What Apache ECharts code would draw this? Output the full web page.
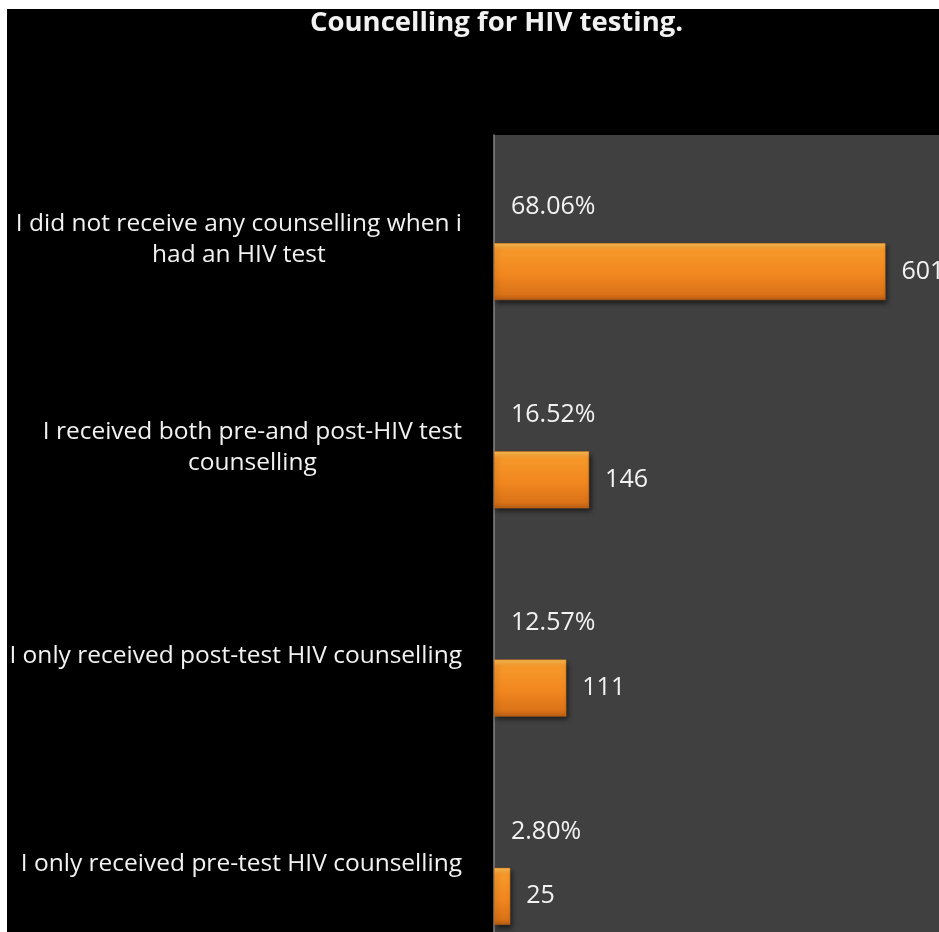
<!DOCTYPE html>
<html>
<head>
<meta charset="utf-8">
<script src="https://cdn.jsdelivr.net/npm/echarts@6/dist/echarts.min.js"></script>
<style>
  html, body { margin: 0; padding: 0; background: #ffffff; }
  #chart { position: absolute; left: 7px; top: 9px; width: 932px; height: 923px; background: #000000; }
</style>
</head>
<body>
<div id="chart"></div>
<script>
// Survey responses: counselling received at HIV testing
const categories = [
  'I did not receive any counselling when i\nhad an HIV test',
  'I received both pre-and post-HIV test\ncounselling',
  'I only received post-test HIV counselling',
  'I only received pre-test HIV counselling'
];
const counts = [601, 146, 111, 25];
const percents = [68.06, 16.52, 12.57, 2.80];
const axisMax = 700;

const chart = echarts.init(document.getElementById('chart'), null, { renderer: 'canvas' });

const textColor = '#f2f2f2';
const fontFamily = '"Open Sans", Lato, sans-serif';

const barGradient = new echarts.graphic.LinearGradient(0, 0, 0, 1, [
  { offset: 0, color: '#fcbc52' },
  { offset: 0.12, color: '#f7982a' },
  { offset: 0.55, color: '#f1871f' },
  { offset: 0.9, color: '#da7218' },
  { offset: 1, color: '#b65d14' }
]);

chart.setOption({
  animation: false,
  backgroundColor: '#000000',
  title: {
    text: 'Councelling for HIV testing.',
    left: 298,
    top: -5,
    textStyle: { color: textColor, fontFamily: fontFamily, fontWeight: 'bold', fontSize: 27.5 }
  },
  grid: {
    left: 487,
    top: 126,
    width: 456,
    height: 833,
    outerBoundsMode: 'none',
    show: true,
    backgroundColor: '#404040',
    borderWidth: 0
  },
  xAxis: {
    type: 'value',
    min: 0,
    max: axisMax,
    show: false,
    splitLine: { show: false }
  },
  yAxis: {
    type: 'category',
    inverse: true,
    data: categories,
    axisLine: { show: true, lineStyle: { color: '#858585', width: 1.5 } },
    axisTick: { show: false },
    axisLabel: {
      align: 'right',
      margin: 32,
      // each label block sits against the axis, its lines centred inside the block
      formatter: v => v.split('\n').map(s => '{c|' + s + '}').join('\n'),
      rich: {
        c: {
          align: 'center',
          color: textColor,
          fontFamily: fontFamily,
          fontSize: 24.5,
          lineHeight: 31
        }
      }
    }
  },
  series: [
    {
      name: 'Percent',
      type: 'bar',
      data: percents,
      barWidth: 57,
      barGap: '14%',
      itemStyle: { color: 'rgba(0,0,0,0)' },
      label: {
        show: true,
        position: 'insideLeft',
        distance: 17,
        color: textColor,
        fontFamily: fontFamily,
        fontSize: 25,
        formatter: p => p.value.toFixed(2) + '%'
      },
      silent: true
    },
    {
      name: 'Count',
      type: 'bar',
      data: counts,
      barWidth: 57,
      barGap: '14%',
      itemStyle: {
        color: barGradient,
        borderColor: '#c86a18',
        borderWidth: 0.5,
        shadowColor: 'rgba(0,0,0,0.6)',
        shadowBlur: 5,
        shadowOffsetX: 2,
        shadowOffsetY: 3
      },
      label: {
        show: true,
        position: 'right',
        distance: 16,
        color: textColor,
        fontFamily: fontFamily,
        fontSize: 25
      }
    }
  ]
});
</script>
</body>
</html>
